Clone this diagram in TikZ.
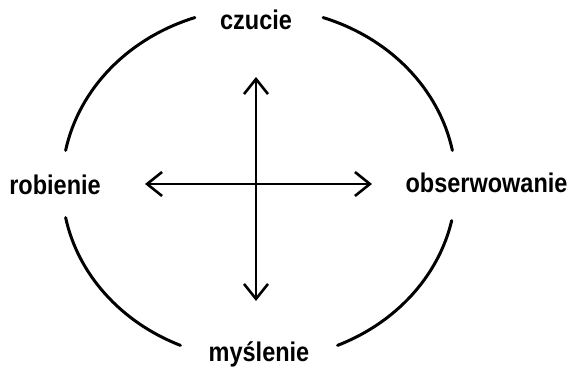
\documentclass[tikz,border=0pt]{standalone}
\usepackage{fontspec}
\setmainfont{Liberation Sans}
\usepackage{graphicx}
\usetikzlibrary{arrows.meta}
\begin{document}
\begin{tikzpicture}[x=1pt,y=1pt,
  lbl/.style={font=\fontsize{23.5}{26}\selectfont\bfseries, inner sep=0pt, anchor=base},
  ring/.style={line width=3pt, line cap=round},
  axis/.style={line width=2.6pt, {Straight Barb[length=15pt,width=24pt,line width=2.6pt]}-{Straight Barb[length=15pt,width=24pt,line width=2.6pt]}}]
\useasboundingbox (0,0) rectangle (571,369);
\fill[white] (0,0) rectangle (571,369);
\coordinate (c) at (259,185);
% labels
\node[lbl] (czucie) at (256,339) {\scalebox{1}[1.15]{czucie}};
\node[lbl] (robienie) at (55,174) {\scalebox{1}[1.15]{robienie}};
\node[lbl] (obserw) at (486.5,176) {\scalebox{1}[1.15]{obserwowanie}};
\node[lbl] (myslenie) at (259,7) {\scalebox{1}[1.15]{myślenie}};
% ring arcs
\draw[ring] ([shift={(109:197pt and 176pt)}]c) arc[start angle=109,end angle=169,x radius=197pt,y radius=176pt];
\draw[ring] ([shift={(71:197pt and 176pt)}]c) arc[start angle=71,end angle=11,x radius=197pt,y radius=176pt];
\draw[ring] ([shift={(191:197pt and 176pt)}]c) arc[start angle=191,end angle=246.5,x radius=197pt,y radius=176pt];
\draw[ring] ([shift={(-12:197pt and 176pt)}]c) arc[start angle=-12,end angle=-66.5,x radius=197pt,y radius=176pt];
% cross arrows
\coordinate (vtop) at (256,292);
\coordinate (vbot) at (256,68);
\coordinate (hleft) at (145,185);
\coordinate (hright) at (372,185);
\draw[axis] (vbot) -- (vtop);
\draw[axis] (hleft) -- (hright);
\end{tikzpicture}
\end{document}
